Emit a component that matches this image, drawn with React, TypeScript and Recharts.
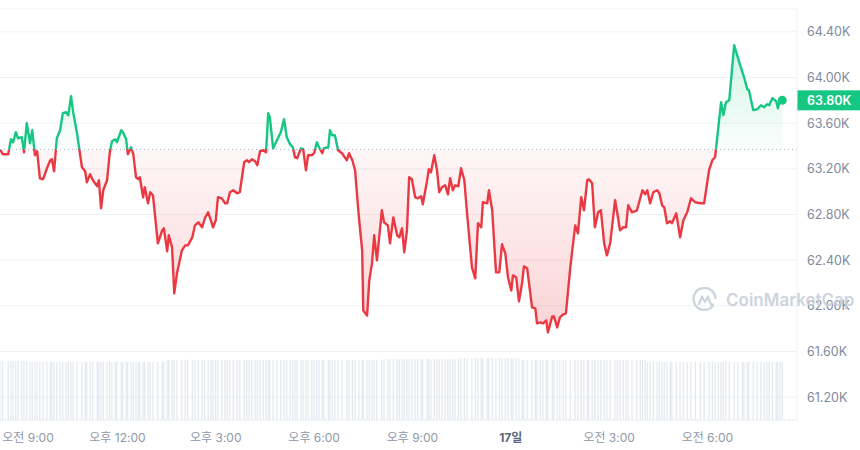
import {
  ComposedChart,
  Area,
  Bar,
  XAxis,
  YAxis,
  CartesianGrid,
  ReferenceLine,
  ReferenceDot,
} from 'recharts';

// minutes since 00:00 on the 16th
const times = [
  505, 510, 520, 525, 529, 534, 538, 545, 549, 554,
  560, 564, 569, 573, 578, 584, 591, 597, 600, 604,
  609, 615, 620, 626, 630, 635, 639, 646, 655, 661,
  664, 670, 675, 683, 686, 690, 694, 701, 706, 710,
  716, 719, 727, 730, 736, 739, 745, 749, 754, 758,
  761, 767, 770, 776, 780, 785, 794, 802, 805, 811,
  814, 820, 824, 829, 838, 844, 849, 857, 862, 868,
  875, 880, 886, 891, 895, 900, 904, 911, 917, 921,
  926, 932, 939, 944, 952, 957, 961, 966, 972, 976,
  981, 987, 992, 996, 999, 1005, 1012, 1019, 1025, 1030,
  1036, 1041, 1045, 1049, 1056, 1060, 1065, 1069, 1076, 1080,
  1085, 1089, 1095, 1098, 1106, 1109, 1113, 1118, 1124, 1131,
  1140, 1144, 1150, 1155, 1162, 1168, 1170, 1177, 1181, 1186,
  1190, 1195, 1204, 1208, 1215, 1219, 1225, 1232, 1236, 1241,
  1245, 1250, 1254, 1259, 1265, 1270, 1276, 1279, 1287, 1290,
  1294, 1300, 1305, 1309, 1314, 1320, 1325, 1329, 1334, 1338,
  1344, 1349, 1355, 1360, 1369, 1375, 1380, 1386, 1389, 1397,
  1400, 1406, 1413, 1419, 1424, 1430, 1435, 1441, 1444, 1450,
  1455, 1461, 1464, 1470, 1479, 1485, 1488, 1494, 1499, 1505,
  1508, 1516, 1519, 1525, 1530, 1536, 1541, 1549, 1558, 1563,
  1569, 1574, 1580, 1583, 1589, 1594, 1600, 1605, 1611, 1616,
  1622, 1631, 1635, 1640, 1646, 1651, 1655, 1662, 1671, 1677,
  1681, 1686, 1690, 1695, 1701, 1708, 1712, 1717, 1721, 1726,
  1732, 1735, 1743, 1750, 1756, 1763, 1770, 1778, 1787, 1794,
  1803, 1809, 1814, 1820, 1825, 1829, 1834, 1840, 1849, 1856,
  1864, 1867, 1873, 1876, 1884, 1891, 1898, 1904, 1909, 1913,
  1919, 1926, 1929, 1933, 1937,
];

const prices = [
  63370, 63328, 63328, 63459, 63433, 63521, 63468, 63477, 63345, 63600,
  63424, 63538, 63319, 63354, 63117, 63109, 63205, 63275, 63284, 63179,
  63468, 63538, 63687, 63696, 63670, 63836, 63696, 63512, 63214, 63179,
  63082, 63152, 63100, 63047, 63100, 62854, 63012, 63100, 63345, 63442,
  63459, 63433, 63538, 63521, 63459, 63328, 63389, 63328, 63126, 63109,
  63126, 62951, 63038, 62898, 62995, 62968, 62548, 62662, 62679, 62477,
  62618, 62512, 62109, 62285, 62486, 62530, 62530, 62600, 62705, 62732,
  62688, 62767, 62819, 62749, 62688, 62749, 62951, 62942, 62898, 62898,
  62995, 63012, 62986, 62995, 63258, 63275, 63258, 63284, 63266, 63231,
  63354, 63363, 63345, 63687, 63652, 63380, 63451, 63521, 63635, 63477,
  63415, 63389, 63301, 63293, 63380, 63372, 63188, 63319, 63319, 63337,
  63433, 63389, 63337, 63380, 63389, 63538, 63494, 63494, 63363, 63337,
  63275, 63337, 63275, 63188, 62775, 62486, 61960, 61916, 62223, 62372,
  62618, 62398, 62837, 62732, 62705, 62548, 62775, 62618, 62600, 62679,
  62469, 62662, 63126, 63109, 62951, 62942, 62960, 62889, 63100, 63196,
  63170, 63319, 63188, 62995, 63038, 63056, 62977, 63117, 63012, 63056,
  63047, 63205, 63100, 62811, 62337, 62241, 62723, 62688, 62907, 62898,
  63012, 62837, 62293, 62293, 62539, 62460, 62249, 62135, 62267, 62249,
  62039, 62206, 62346, 62328, 61986, 61977, 61846, 61855, 61846, 61872,
  61767, 61908, 61908, 61811, 61899, 61925, 61934, 62337, 62705, 62635,
  62951, 62837, 63100, 63109, 63074, 62688, 62819, 62837, 62548, 62442,
  62548, 62925, 62811, 62662, 62688, 62688, 62881, 62819, 62837, 62942,
  63012, 62977, 63012, 62898, 62995, 63012, 62986, 62881, 62863, 62723,
  62740, 62723, 62811, 62600, 62749, 62819, 62942, 62907, 62898, 62898,
  63188, 63275, 63301, 63564, 63784, 63670, 63784, 63801, 64283, 64169,
  64047, 64003, 63898, 63889, 63714, 63722, 63757, 63740, 63766, 63757,
  63819, 63792, 63731, 63810, 63800,
];

// 24h volume, billions
const volumes = [
  34.6, 34.5, 34.6, 34.5, 34.6, 34.5, 34.6, 34.5, 34.4, 34.4,
  33.9, 33.9, 33.8, 33.9, 33.9, 33.8, 33.9, 33.9, 33.8, 33.9,
  33.9, 33.8, 33.9, 33.9, 33.8, 33.9, 33.9, 33.8, 33.9, 33.9,
  33.8, 33.9, 33.9, 33.8, 33.9, 33.9, 33.8, 33.9, 33.9, 33.8,
  33.9, 33.9, 33.8, 33.9, 33.9, 33.8, 33.9, 33.9, 33.8, 33.9,
  33.9, 33.8, 33.9, 33.9, 33.8, 34.0, 34.1, 34.2, 34.5, 34.9,
  35.0, 35.1, 35.2, 35.2, 35.1, 35.2, 35.2, 35.1, 35.2, 35.1,
  35.0, 35.0, 35.1, 35.0, 35.0, 35.1, 35.0, 35.0, 35.1, 35.0,
  35.0, 35.1, 35.0, 35.0, 35.1, 35.0, 35.0, 35.1, 35.0, 35.0,
  35.1, 35.0, 35.0, 35.1, 35.0, 35.0, 35.1, 35.0, 35.0, 35.1,
  35.0, 35.0, 35.1, 35.0, 35.0, 35.1, 35.0, 35.0, 35.1, 35.0,
  35.0, 35.1, 35.0, 35.0, 35.1, 35.0, 35.0, 35.1, 35.0, 35.0,
  35.1, 35.0, 35.0, 35.1, 35.0, 35.0, 35.1, 35.0, 35.0, 35.1,
  35.0, 35.0, 35.1, 35.6, 35.6, 35.5, 35.6, 35.6, 35.5, 35.6,
  35.6, 35.5, 35.6, 35.6, 35.5, 35.6, 35.6, 35.5, 35.6, 35.6,
  35.5, 35.6, 35.6, 35.5, 35.6, 35.6, 35.5, 35.6, 35.6, 35.5,
  35.6, 36.2, 36.2, 36.1, 36.2, 36.2, 36.1, 36.2, 36.2, 36.1,
  36.2, 36.2, 36.1, 36.2, 36.2, 36.1, 36.2, 36.2, 36.1, 36.2,
  36.2, 35.0, 35.0, 35.1, 35.0, 35.0, 35.1, 35.0, 35.0, 35.1,
  35.0, 35.0, 35.1, 35.0, 35.0, 35.1, 35.0, 35.0, 35.1, 35.0,
  35.0, 35.1, 35.0, 35.0, 35.1, 35.0, 35.0, 35.1, 35.0, 35.0,
  35.1, 35.0, 35.0, 35.1, 35.0, 35.0, 35.1, 35.0, 35.0, 35.1,
  35.0, 35.0, 33.9, 33.9, 33.8, 33.9, 33.9, 33.8, 33.9, 33.9,
  33.8, 33.9, 33.9, 33.8, 33.9, 33.9, 33.8, 33.9, 33.9, 33.8,
  33.9, 33.9, 33.8, 33.9, 33.9, 33.8, 33.9, 33.9, 33.8, 33.9,
  33.9, 33.8, 33.9, 33.9, 33.8, 33.9, 33.9, 33.8, 33.9, 33.9,
  33.8, 33.9, 33.9, 33.8, 33.9,
];

const xTicks = [540, 720, 900, 1080, 1260, 1440, 1620, 1800];
const xTickLabels = ['오전 9:00', '오후 12:00', '오후 3:00', '오후 6:00', '오후 9:00', '17일', '오전 3:00', '오전 6:00'];
const yTicks = [61200, 61600, 62000, 62400, 62800, 63200, 63600, 64000, 64400];

const GREEN = '#16c784';
const RED = '#ea3943';
const FONT = "Inter, 'Noto Sans CJK KR', sans-serif";

const data = times.map((t, i) => ({ t, price: prices[i], vol: volumes[i] }));
const base = prices[0];
const last = data[data.length - 1];
const maxP = Math.max(...prices);
const minP = Math.min(...prices);
const off = (maxP - base) / (maxP - minP);

const fmtK = (v: number) => `${(v / 1000).toFixed(2)}K`;

const XTick = (props: any) => {
  const { x, y, payload } = props;
  const idx = xTicks.indexOf(payload.value);
  const isDay = payload.value === 1440;
  return (
    <text
      x={Math.max(x, 28)}
      y={y}
      dy="0.71em"
      textAnchor="middle"
      fontSize={12}
      fontFamily={FONT}
      fontWeight={isDay ? 700 : 400}
      fill={isDay ? '#58667e' : '#8f98a8'}
    >
      {xTickLabels[idx]}
    </text>
  );
};

const PriceTag = (props: any) => {
  const { viewBox } = props;
  const x = viewBox.x + viewBox.width;
  return (
    <g>
      <rect x={x} y={viewBox.y - 10} width={63} height={20} fill={GREEN} />
      <text x={x + 10} y={viewBox.y} dy="0.36em" fontSize={12.5} fontWeight={600} fontFamily={FONT} fill="#fff">
        {fmtK(last.price)}
      </text>
    </g>
  );
};

export default function App() {
  return (
    <div style={{ position: 'absolute', left: 0, top: 0, width: 860, height: 450, overflow: 'hidden', background: '#fff', fontFamily: FONT }}>
      <ComposedChart width={860} height={450} data={data} margin={{ top: 9, right: 0, bottom: 0, left: 0 }}>
        <defs>
          <linearGradient id="lineStroke" x1="0" y1="0" x2="0" y2="1">
            <stop offset={off} stopColor={GREEN} />
            <stop offset={off} stopColor={RED} />
          </linearGradient>
          <linearGradient id="areaFill" x1="0" y1="0" x2="0" y2="1">
            <stop offset={0} stopColor={GREEN} stopOpacity={0.2} />
            <stop offset={off} stopColor={GREEN} stopOpacity={0.02} />
            <stop offset={off} stopColor={RED} stopOpacity={0.04} />
            <stop offset={1} stopColor={RED} stopOpacity={0.22} />
          </linearGradient>
        </defs>
        <CartesianGrid vertical={false} stroke="#eff2f5" />
        <XAxis
          dataKey="t"
          type="number"
          domain={[505, 1964]}
          ticks={xTicks}
          interval={0}
          tick={<XTick />}
          tickLine={false}
          tickSize={0}
          tickMargin={13}
          height={30}
          axisLine={{ stroke: '#e6e9ee', strokeDasharray: '2 2' }}
        />
        <YAxis
          orientation="right"
          domain={[61000, 64600]}
          ticks={yTicks}
          tickFormatter={fmtK}
          width={63}
          tickLine={false}
          tickSize={0}
          tickMargin={10}
          axisLine={{ stroke: '#eff2f5' }}
          tick={{ fontSize: 12.5, fill: '#808a9d', fontFamily: FONT, textAnchor: 'start' }}
        />
        <YAxis yAxisId="vol" hide domain={[0, 240]} />
        <Bar yAxisId="vol" dataKey="vol" barSize={2} fill="#dde2ea" isAnimationActive={false} />
        <Area
          type="linear"
          dataKey="price"
          baseValue={base}
          stroke="url(#lineStroke)"
          strokeWidth={2.4}
          strokeLinejoin="round"
          fill="url(#areaFill)"
          fillOpacity={1}
          dot={false}
          activeDot={false}
          isAnimationActive={false}
        />
        <ReferenceLine y={base} stroke="#a9b2c2" strokeDasharray="1 3" strokeWidth={1} />
        <ReferenceLine y={last.price} stroke="none" label={<PriceTag />} />
        <ReferenceDot x={last.t} y={last.price} r={4.5} fill={GREEN} stroke="none" />
      </ComposedChart>
      <div
        style={{
          position: 'absolute',
          left: 692,
          top: 287,
          display: 'flex',
          alignItems: 'center',
          gap: 8,
          color: '#c9d0dc',
          fontSize: 17,
          fontWeight: 600,
          whiteSpace: 'nowrap',
          pointerEvents: 'none',
          opacity: 0.9,
        }}
      >
        <svg width={26} height={26} viewBox="0 0 26 26">
          <path d="M20.5 19.5 A11 11 0 1 1 23.5 11" fill="none" stroke="#c9d0dc" strokeWidth={2.4} strokeLinecap="round" />
          <path d="M7 17 L10 9.5 L13 15 L16 9.5 L18.5 16.5 Q19.5 18.5 21 17.5" fill="none" stroke="#c9d0dc" strokeWidth={2.2} strokeLinejoin="round" strokeLinecap="round" />
        </svg>
        <span>CoinMarketCap</span>
      </div>
    </div>
  );
}
